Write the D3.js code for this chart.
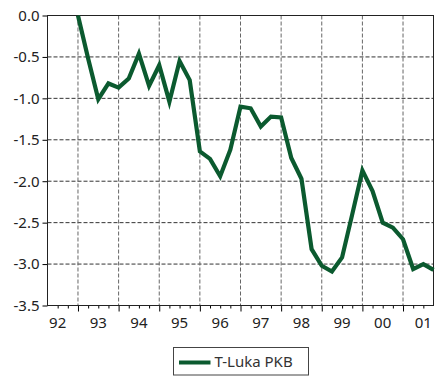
<!DOCTYPE html>
<html>
<head>
<meta charset="utf-8">
<script src="https://cdn.jsdelivr.net/npm/d3@7"></script>
<style>
  body { margin: 0; background: #fff; }
  svg { display: block; font-family: "Noto Sans", sans-serif; }
</style>
</head>
<body>
<div id="wrapper"></div>
<script>
// Data
const quarters = [
  "1993Q1","1993Q2","1993Q3","1993Q4","1994Q1","1994Q2","1994Q3","1994Q4",
  "1995Q1","1995Q2","1995Q3","1995Q4","1996Q1","1996Q2","1996Q3","1996Q4",
  "1997Q1","1997Q2","1997Q3","1997Q4","1998Q1","1998Q2","1998Q3","1998Q4",
  "1999Q1","1999Q2","1999Q3","1999Q4","2000Q1","2000Q2","2000Q3","2000Q4",
  "2001Q1","2001Q2","2001Q3","2001Q4"];
const gap = [
  0.0, -0.52, -1.01, -0.82, -0.87, -0.76, -0.46, -0.85,
  -0.60, -1.04, -0.55, -0.78, -1.64, -1.73, -1.94, -1.62,
  -1.10, -1.12, -1.34, -1.22, -1.23, -1.72, -1.97, -2.82,
  -3.02, -3.09, -2.92, -2.40, -1.87, -2.12, -2.50, -2.56,
  -2.70, -3.06, -3.00, -3.07];
const yearLabels = ["92","93","94","95","96","97","98","99","00","01"];
const yTicks = [0.0, -0.5, -1.0, -1.5, -2.0, -2.5, -3.0, -3.5];
const seriesName = "T-Luka PKB";

// Dimension
const dimension = {width: 436, height: 376,
  margin: {top: 15.5, left: 47.5, right: 2.5, bottom: 70.5}};
dimension.boundWidth = dimension.width - dimension.margin.left - dimension.margin.right;
dimension.boundHeight = dimension.height - dimension.margin.top - dimension.margin.bottom;

const toYear = q => +q.slice(0, 4) + (+q.slice(5) - 1) / 4;
const xScale = d3.scaleLinear().domain([1992.25, 2001.75]).range([0, dimension.boundWidth]);
const yScale = d3.scaleLinear().domain([-3.5, 0]).range([dimension.boundHeight, 0]);

// Canvas
const wrapper = d3.select('#wrapper').append('svg')
  .attr('width', dimension.width).attr('height', dimension.height);
const bounds = wrapper.append('g')
  .attr('transform', `translate(${dimension.margin.left},${dimension.margin.top})`);

const years = d3.range(1993, 2002);

// grid
bounds.append('g').selectAll('line').data(yTicks.slice(1, -1)).join('line')
  .attr('x1', 0).attr('x2', dimension.boundWidth)
  .attr('y1', d => yScale(d)).attr('y2', d => yScale(d))
  .attr('stroke', '#333').attr('stroke-dasharray', '4,2').attr('stroke-width', 1);
bounds.append('g').selectAll('line').data(years).join('line')
  .attr('x1', d => xScale(d)).attr('x2', d => xScale(d))
  .attr('y1', 0).attr('y2', dimension.boundHeight)
  .attr('stroke', '#666').attr('stroke-dasharray', '4,2').attr('stroke-width', 1);

// axes
const yAxis = bounds.append('g')
  .call(d3.axisLeft(yScale).tickValues(yTicks).tickFormat(d3.format('.1f')).tickSize(5).tickPadding(3));
yAxis.select('.domain').remove();
yAxis.selectAll('text').attr('font-size', 15).attr('fill', '#222')
  .attr('font-family', '"Noto Sans", sans-serif').text(d => d3.format('.1f')(d).replace('−', '-'));

const minor = d3.range(1992.5, 2001.75, 0.25).filter(d => d % 1 !== 0);
bounds.append('g').attr('transform', `translate(0,${dimension.boundHeight})`)
  .call(d3.axisBottom(xScale).tickValues(minor).tickSize(3).tickFormat(''))
  .select('.domain').remove();
const xAxis = bounds.append('g').attr('transform', `translate(0,${dimension.boundHeight})`)
  .call(d3.axisBottom(xScale).tickValues(years).tickSize(6).tickFormat(''));
xAxis.select('.domain').remove();
bounds.append('g').selectAll('text').data(yearLabels).join('text')
  .attr('x', (d, i) => xScale(1992.5 + i))
  .attr('y', dimension.boundHeight + 22)
  .attr('text-anchor', 'middle').attr('font-size', 15).attr('fill', '#222')
  .text(d => d);

// frame
bounds.append('rect').attr('width', dimension.boundWidth).attr('height', dimension.boundHeight)
  .attr('fill', 'none').attr('stroke', '#222').attr('stroke-width', 1);

// line
const line = d3.line().x((d, i) => xScale(toYear(quarters[i]))).y(d => yScale(d));
bounds.append('path').datum(gap).attr('d', line)
  .attr('fill', 'none').attr('stroke', '#0b5a2f').attr('stroke-width', 4.2)
  .attr('stroke-linejoin', 'miter');

// legend
const legend = wrapper.append('g').attr('transform', 'translate(173.5,347.5)');
legend.append('rect').attr('width', 135).attr('height', 27.5)
  .attr('fill', '#fff').attr('stroke', '#444').attr('stroke-width', 1);
legend.append('line').attr('x1', 5.5).attr('x2', 37).attr('y1', 15).attr('y2', 15)
  .attr('stroke', '#0b5a2f').attr('stroke-width', 4);
legend.append('text').attr('x', 41).attr('y', 19.5).attr('font-size', 15).attr('fill', '#333')
  .text(seriesName);
</script>
</body>
</html>
